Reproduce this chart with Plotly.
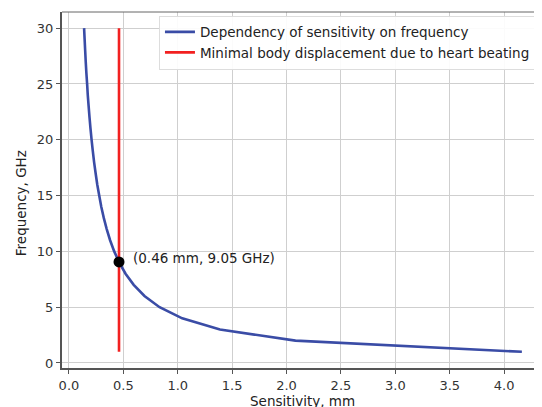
import plotly.graph_objects as go

frequency_ghz = [1, 2, 3, 4, 5, 6, 7, 8, 9, 10, 11, 12, 13, 14, 15,
                 16, 17, 18, 19, 20, 21, 22, 23, 24, 25, 26, 27, 28, 29, 30]
sensitivity_mm = [4.163, 2.082, 1.388, 1.041, 0.833, 0.694, 0.595, 0.520, 0.463, 0.416,
                  0.378, 0.347, 0.320, 0.297, 0.278, 0.260, 0.245, 0.231, 0.219, 0.208,
                  0.198, 0.189, 0.181, 0.173, 0.167, 0.160, 0.154, 0.149, 0.144, 0.139]
min_disp_x = [0.46, 0.46]
min_disp_y = [1, 30]
point_x = [0.46]
point_y = [9.05]
point_label = "(0.46 mm, 9.05 GHz)"
x_tick_vals = [0, 0.5, 1, 1.5, 2, 2.5, 3, 3.5, 4]
x_tick_text = ["0.0", "0.5", "1.0", "1.5", "2.0", "2.5", "3.0", "3.5", "4.0"]
y_tick_vals = [0, 5, 10, 15, 20, 25, 30]

font = "DejaVu Sans"
fig = go.Figure()
fig.add_trace(go.Scatter(x=sensitivity_mm, y=frequency_ghz, mode="lines",
                         line=dict(color="#3a4ca6", width=2.6, simplify=False),
                         name="Dependency of sensitivity on frequency"))
fig.add_trace(go.Scatter(x=min_disp_x, y=min_disp_y, mode="lines",
                         line=dict(color="#f22020", width=2.6),
                         name="Minimal body displacement due to heart beating"))
fig.add_trace(go.Scatter(x=point_x, y=point_y, mode="markers",
                         marker=dict(color="black", size=11), showlegend=False))
fig.add_annotation(x=point_x[0], y=point_y[0], text=point_label, showarrow=False,
                   xanchor="left", yanchor="middle", xshift=12, yshift=4,
                   font=dict(family=font, size=13.5, color="#222"))
fig.add_annotation(x=0, y=0.463, xref="paper", yref="paper", text="Frequency, GHz",
                   showarrow=False, textangle=-90, xanchor="center", yanchor="middle",
                   xshift=-41, font=dict(family=font, size=13.5, color="#222"))
fig.add_annotation(x=0.5, y=0, xref="paper", yref="paper", text="Sensitivity, mm",
                   showarrow=False, xanchor="center", yanchor="middle",
                   yshift=-33, font=dict(family=font, size=13.5, color="#222"))

fig.update_layout(
    width=534, height=399,
    margin=dict(l=54, r=0, t=4, b=39, autoexpand=False),
    paper_bgcolor="white", plot_bgcolor="white",
    font=dict(family=font, size=13, color="#333"),
    legend=dict(x=0.202, y=0.99, xanchor="left", yanchor="top",
                bgcolor="rgba(255,255,255,0.9)", bordercolor="#ddd", borderwidth=1,
                font=dict(family=font, size=13.5, color="#222"),
                tracegroupgap=0, itemwidth=30),
    xaxis=dict(range=[-0.064, 4.348], tickvals=x_tick_vals, ticktext=x_tick_text,
               showgrid=True, gridcolor="#cfcfcf", gridwidth=1, zeroline=False,
               showline=True, linecolor="#555", linewidth=2, automargin=False,
               ticks="outside", ticklen=4, tickcolor="#555"),
    yaxis=dict(range=[-0.45, 31.45], tickvals=y_tick_vals,
               showgrid=True, gridcolor="#cfcfcf", gridwidth=1, zeroline=False,
               showline=True, linecolor="#555", linewidth=2, automargin=False,
               ticks="outside", ticklen=4, tickcolor="#555"),
    shapes=[dict(type="line", xref="paper", yref="paper", x0=0, x1=1, y0=1, y1=1,
                 line=dict(color="#666", width=1))],
)
fig.write_html("out.html")
